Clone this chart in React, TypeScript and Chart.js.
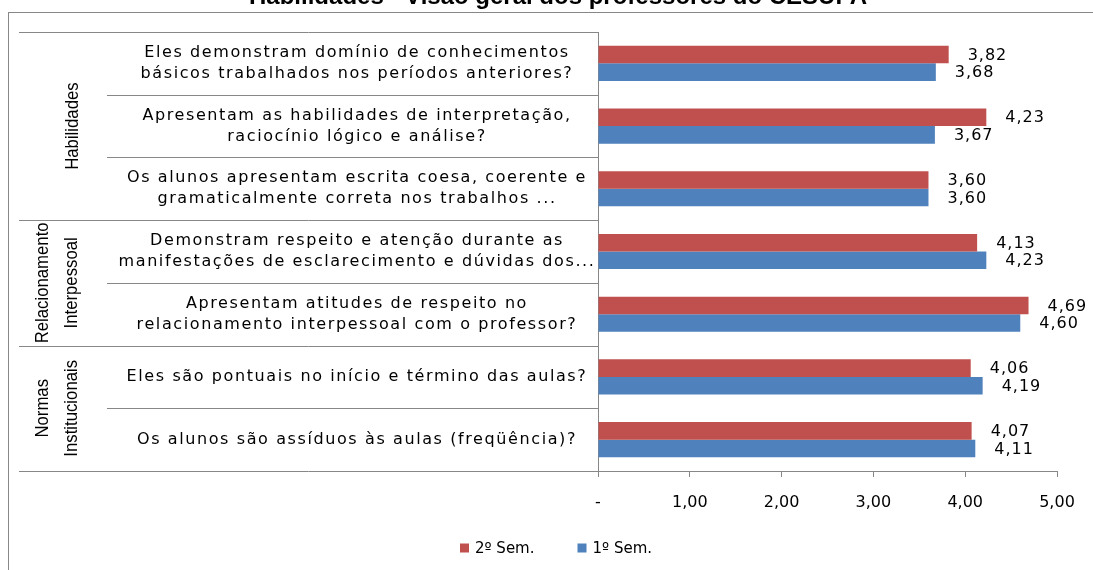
import React, { useEffect, useRef } from 'react';
import { Chart, registerables } from 'chart.js';

Chart.register(...registerables);

const chartTitle = 'Habilidades - Visão geral dos professores do CESUPA';

const categoryLines: string[][] = [
  ['Eles demonstram domínio de conhecimentos', 'básicos trabalhados nos períodos anteriores?'],
  ['Apresentam as habilidades de interpretação,', 'raciocínio lógico e análise?'],
  ['Os alunos apresentam escrita coesa, coerente e', 'gramaticalmente correta nos trabalhos ...'],
  ['Demonstram respeito e atenção durante as', 'manifestações de esclarecimento e dúvidas dos...'],
  ['Apresentam atitudes de respeito no', 'relacionamento interpessoal com o professor?'],
  ['Eles são pontuais no início e término das aulas?'],
  ['Os alunos são assíduos às aulas (freqüência)?'],
];

const groupNames: string[][] = [
  ['Habilidades'],
  ['Relacionamento', 'Interpessoal'],
  ['Normas', 'Institucionais'],
];
const groupSizes = [3, 2, 2];

const seriesLabels = ['2º Sem.', '1º Sem.'];
const sem2Values = [3.82, 4.23, 3.6, 4.13, 4.69, 4.06, 4.07];
const sem1Values = [3.68, 3.67, 3.6, 4.23, 4.6, 4.19, 4.11];

const xTickValues = [0, 1, 2, 3, 4, 5];

const RED = '#C0504D';
const BLUE = '#4F81BD';
const LINE = '#878787';
const FONT = '"DejaVu Sans"';

const fmt = (v: number) => (v === 0 ? '-' : v.toFixed(2).replace('.', ','));

const tablePlugin = {
  id: 'tablePlugin',
  beforeDraw(chart: any) {
    const { ctx, chartArea, scales } = chart;
    const y = scales.y;
    ctx.save();
    // outer frame
    ctx.strokeStyle = LINE;
    ctx.lineWidth = 1;
    ctx.strokeRect(8.5, 12.5, 1200, 800);

    // title (cut off at top)
    ctx.fillStyle = '#000';
    ctx.font = `bold 24px "Liberation Sans"`;
    ctx.textAlign = 'center';
    ctx.textBaseline = 'alphabetic';
    ctx.fillText(chartTitle, 558, 4);

    const n = categoryLines.length;
    const band = (chartArea.bottom - chartArea.top) / n;
    const groupStart = 19;
    const catStart = 107;
    const groupBounds: number[] = [0];
    groupSizes.forEach((s) => groupBounds.push(groupBounds[groupBounds.length - 1] + s));

    // separator lines
    ctx.strokeStyle = LINE;
    for (let i = 0; i <= n; i++) {
      const yy = Math.round(chartArea.top + i * band) + 0.5;
      const x0 = groupBounds.includes(i) ? groupStart : catStart;
      ctx.beginPath();
      ctx.moveTo(x0, yy);
      ctx.lineTo(chartArea.left, yy);
      ctx.stroke();
    }
    // y axis line
    ctx.beginPath();
    ctx.moveTo(Math.round(chartArea.left) + 0.5, chartArea.top);
    ctx.lineTo(Math.round(chartArea.left) + 0.5, chartArea.bottom);
    ctx.stroke();

    // category labels
    ctx.fillStyle = '#000';
    ctx.font = `16px ${FONT}`;
    (ctx as any).letterSpacing = '1.6px';
    ctx.textAlign = 'center';
    ctx.textBaseline = 'middle';
    categoryLines.forEach((lines, i) => {
      const cy = y.getPixelForValue(i);
      const lh = 21;
      lines.forEach((ln, k) => {
        const ly = cy + (k - (lines.length - 1) / 2) * lh;
        ctx.fillText(ln, 357, ly);
      });
    });
    (ctx as any).letterSpacing = '0px';

    // group labels (rotated)
    ctx.font = `18px "Liberation Sans"`;
    groupNames.forEach((lines, g) => {
      const y0 = chartArea.top + groupBounds[g] * band;
      const y1 = chartArea.top + groupBounds[g + 1] * band;
      const cy = (y0 + y1) / 2;
      const xs = lines.length === 1 ? [73] : [43, 72];
      lines.forEach((ln, k) => {
        ctx.save();
        ctx.translate(xs[k], cy);
        ctx.rotate(-Math.PI / 2);
        ctx.scale(0.93, 1);
        ctx.fillText(ln, 0, 0);
        ctx.restore();
      });
    });
    ctx.restore();
  },
  afterDatasetsDraw(chart: any) {
    const { ctx } = chart;
    ctx.save();
    ctx.fillStyle = '#000';
    ctx.font = `16px ${FONT}`;
    (ctx as any).letterSpacing = '1px';
    ctx.textAlign = 'left';
    ctx.textBaseline = 'middle';
    chart.data.datasets.forEach((ds: any, di: number) => {
      const meta = chart.getDatasetMeta(di);
      meta.data.forEach((el: any, i: number) => {
        ctx.fillText(fmt(ds.data[i]), el.x + 19, el.y + 1);
      });
    });
    (ctx as any).letterSpacing = '0px';

    // legend
    ctx.font = `15px ${FONT}`;
    const box = 9;
    const gapText = 6;
    const gapItem = 43;
    const widths = chart.data.datasets.map((ds: any) => box + gapText + ctx.measureText(ds.label).width);
    const total = widths.reduce((a: number, b: number) => a + b, 0) + gapItem * (widths.length - 1);
    let x = 556 - total / 2;
    const ly = 548;
    chart.data.datasets.forEach((ds: any, di: number) => {
      ctx.fillStyle = ds.backgroundColor;
      ctx.fillRect(x, ly - 4.5, box, box);
      ctx.fillStyle = '#000';
      ctx.fillText(ds.label, x + box + gapText, ly + 1);
      x += widths[di] + gapItem;
    });
    ctx.restore();
  },
};

export default function App() {
  const ref = useRef<HTMLCanvasElement>(null);
  useEffect(() => {
    if (!ref.current) return;
    const chart = new Chart(ref.current, {
      type: 'bar',
      data: {
        labels: categoryLines.map((l) => l.join(' ')),
        datasets: [
          { label: seriesLabels[0], data: sem2Values, backgroundColor: RED, categoryPercentage: 0.56, barPercentage: 1 },
          { label: seriesLabels[1], data: sem1Values, backgroundColor: BLUE, categoryPercentage: 0.56, barPercentage: 1 },
        ],
      },
      options: {
        indexAxis: 'y',
        responsive: false,
        animation: false,
        layout: { padding: { left: 598, right: 36, top: 32, bottom: 0 } },
        plugins: { legend: { display: false }, title: { display: false }, tooltip: { enabled: false } },
        scales: {
          y: { type: 'category', display: false, offset: true },
          x: {
            type: 'linear',
            min: 0,
            max: 5,
            afterBuildTicks: (scale: any) => {
              scale.ticks = xTickValues.map((v) => ({ value: v }));
            },
            afterFit: (scale: any) => {
              scale.height = 99;
            },
            grid: { drawOnChartArea: false, drawTicks: true, tickLength: 6, color: LINE },
            border: { color: LINE, width: 1 },
            ticks: {
              padding: 16,
              color: '#000',
              font: { family: 'DejaVu Sans', size: 16 },
              callback: (v: any) => fmt(Number(v)),
            },
          },
        },
      },
      plugins: [tablePlugin],
    });
    return () => chart.destroy();
  }, []);
  return (
    <div style={{ position: 'absolute', left: 0, top: 0, width: 1093, height: 570 }}>
      <canvas ref={ref} width={1093} height={570} style={{ display: 'block' }} />
    </div>
  );
}
